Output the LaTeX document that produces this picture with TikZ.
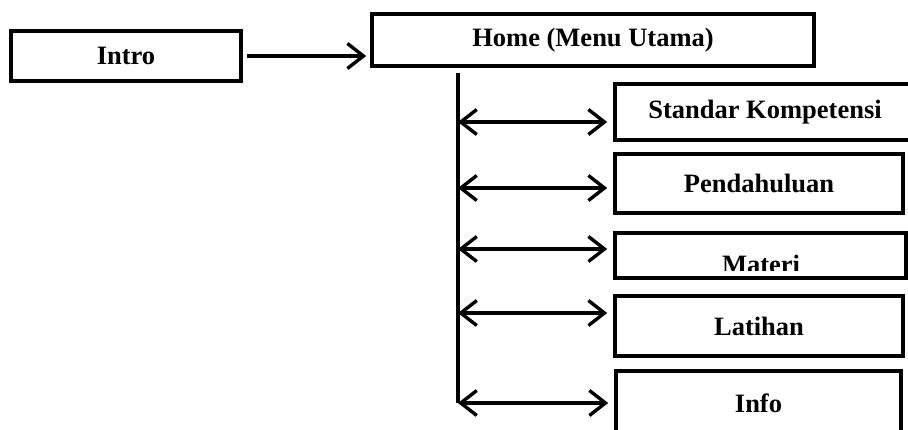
\documentclass[tikz,border=0pt]{standalone}
\usepackage{fontspec}
\setmainfont{Liberation Serif}
\usetikzlibrary{arrows.meta}
\tikzset{
  menubox/.style={draw=black, line width=3.6pt, fill=white, inner sep=0pt,
    font=\fontsize{26.5}{30}\selectfont\bfseries},
  barb/.tip={Straight Barb[length=16pt,width=25pt]},
  link/.style={line width=3.4pt, -barb},
  twoway/.style={line width=3.4pt, barb-barb},
  trunk/.style={line width=3.4pt}
}
\begin{document}
\begin{tikzpicture}[x=1pt,y=-1pt]
  \clip (0,0) rectangle (908,429);
  \fill[white] (0,0) rectangle (908,429);

  % top row
  \node[menubox, minimum width=230, minimum height=50] (intro) at (126,56) {Intro};
  \node[menubox, minimum width=442, minimum height=52] (home) at (593,40) {Home (Menu Utama)};

  % sub-menu boxes
  \node[menubox, minimum width=300, minimum height=56] (sk) at (765,112) {Standar Kompetensi};
  \node[menubox, minimum width=288, minimum height=59] (pend) at (759,183.5) {Pendahuluan};
  \node[menubox, minimum width=291, minimum height=45] (materi) at (760.5,255.5) {};
  \begin{scope}
    \clip (615,233) rectangle (906,270);
    \node[menubox, draw=none, fill=none, anchor=base] (materilabel) at (761,273) {Materi};
  \end{scope}
  \node[menubox, minimum width=288, minimum height=60] (latihan) at (759,326) {Latihan};
  \node[menubox, minimum width=285, minimum height=64] (info) at (758.5,403) {Info};

  % Intro -> Home
  \draw[link, shorten <=4pt, shorten >=4pt] (intro.east) -- (intro.east -| home.west);

  % vertical trunk under Home
  \coordinate (ttop) at (458,73);
  \coordinate (t1) at (458,122);
  \coordinate (t2) at (458,188);
  \coordinate (t3) at (458,249);
  \coordinate (t4) at (458,313);
  \coordinate (t5) at (458,403);
  \draw[trunk] (ttop) -- (t5);

  % two-way links to the sub-menus
  \draw[twoway, shorten >=6pt] (t1) -- (t1 -| sk.west);
  \draw[twoway, shorten >=6pt] (t2) -- (t2 -| pend.west);
  \draw[twoway, shorten >=6pt] (t3) -- (t3 -| materi.west);
  \draw[twoway, shorten >=6pt] (t4) -- (t4 -| latihan.west);
  \draw[twoway, shorten >=6pt] (t5) -- (t5 -| info.west);
\end{tikzpicture}
\end{document}
